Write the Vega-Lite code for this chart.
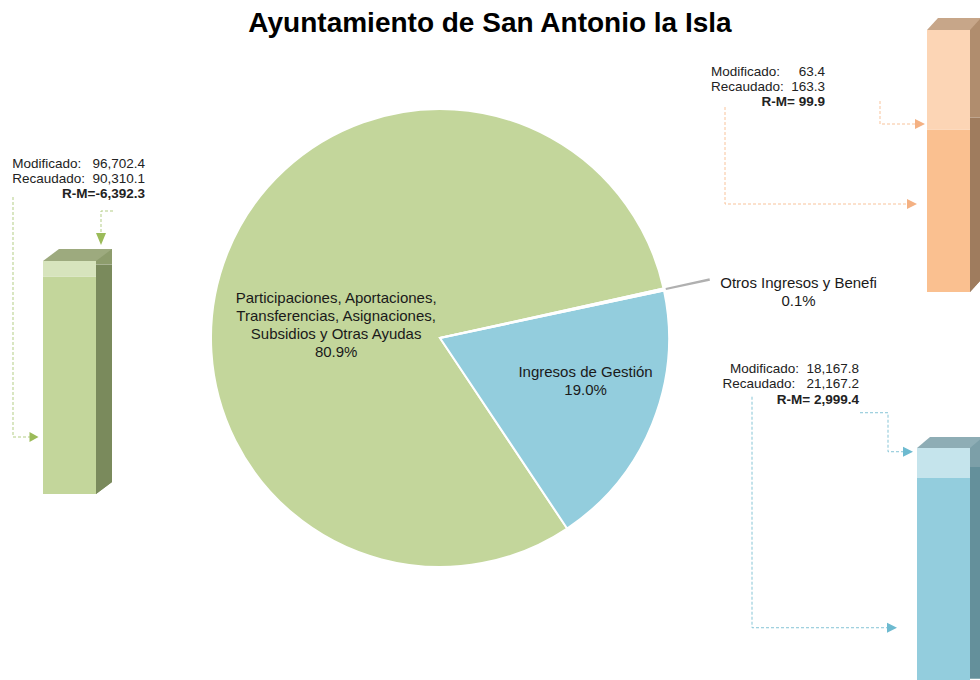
{
  "$schema": "https://vega.github.io/schema/vega-lite/v6.json",
  "padding": 0,
  "spacing": 0,
  "bounds": "flush",
  "title": {"text": "Ayuntamiento de San Antonio la Isla", "font": "Liberation Sans", "fontSize": 28, "fontWeight": "bold", "color": "#000000", "anchor": "middle", "offset": -38},
  "config": {"view": {"stroke": null}, "font": "Liberation Sans", "axis": {"disable": true}, "concat": {"spacing": 0}},
  "hconcat": [
    {
      "width": 139,
      "height": 494,
      "data": {"values": [
        {"barra": "Participaciones", "parte": "Recaudado", "valor": 90310.1},
        {"barra": "Participaciones", "parte": "Diferencia R-M", "valor": 6392.3}
      ]},
      "encoding": {"x": {"field": "barra", "type": "nominal", "axis": null, "scale": {"paddingInner": 0, "paddingOuter": 0}}},
      "layer": [
        {"mark": {"type": "bar", "width": 16, "xOffset": 34.5, "yOffset": -12, "y2Offset": -12},
         "encoding": {"y": {"field": "valor", "type": "quantitative", "stack": "zero", "axis": null, "scale": {"domain": [0, 205025], "nice": false}},
           "color": {"field": "parte", "type": "nominal", "legend": null, "scale": {"domain": ["Recaudado", "Diferencia R-M"], "range": ["#7A8A5C", "#8D9C6C"]}},
           "order": {"field": "parte", "sort": "descending"}}},
        {"mark": {"type": "bar", "width": 53},
         "encoding": {"y": {"field": "valor", "type": "quantitative", "stack": "zero", "axis": null},
           "color": {"field": "parte", "type": "nominal", "legend": null, "scale": {"domain": ["Recaudado", "Diferencia R-M"], "range": ["#C3D69B", "#D7E4BD"]}},
           "order": {"field": "parte", "sort": "descending"}}},
        {"mark": {"type": "point", "shape": "M-26.5,0 L26.5,0 L42.5,-12 L-10.5,-12 Z", "size": 4, "filled": true, "opacity": 1, "color": "#9DAA7E", "strokeWidth": 0},
         "encoding": {"y": {"aggregate": "sum", "field": "valor", "type": "quantitative", "axis": null}}},
        {"mark": {"type": "point", "shape": "M26.5,0 L26.5,-12 L42.5,-12 Z", "size": 4, "filled": true, "opacity": 1, "color": "#7A8A5C", "strokeWidth": 0},
         "encoding": {"y": {"datum": 0, "type": "quantitative", "axis": null}}},
        {
          "data": {"values": [{"barra": "Participaciones", "lineas": "Modificado:\u00a0\u00a0\u00a096,702.4\nRecaudado:\u00a0\u00a090,310.1", "rm": "R-M=-6,392.3"}]},
          "layer": [
            {"mark": {"type": "text", "align": "right", "baseline": "alphabetic", "dx": 75.5, "dy": -326, "fontSize": 13.5, "lineHeight": 15, "lineBreak": "\n", "color": "#222222"},
             "encoding": {"y": {"datum": 0, "type": "quantitative", "axis": null}, "text": {"field": "lineas"}}},
            {"mark": {"type": "text", "align": "right", "baseline": "alphabetic", "dx": 75.5, "dy": -296, "fontSize": 13.5, "fontWeight": "bold", "color": "#222222"},
             "encoding": {"y": {"datum": 0, "type": "quantitative", "axis": null}, "text": {"field": "rm"}}},
            {"mark": {"type": "point", "shape": "M-56.5,-297 L-56.5,-57 L-39.5,-57", "size": 4, "filled": false, "opacity": 1, "stroke": "#B3CD85", "strokeWidth": 1, "strokeDash": [3, 2]},
             "encoding": {"y": {"datum": 0, "type": "quantitative", "axis": null}}},
            {"mark": {"type": "point", "shape": "M-40,-62 L-31,-57 L-40,-52 Z", "size": 4, "filled": true, "opacity": 1, "color": "#9BBB59", "strokeWidth": 0},
             "encoding": {"y": {"datum": 0, "type": "quantitative", "axis": null}}},
            {"mark": {"type": "point", "shape": "M43.5,-283 L31.5,-283 L31.5,-261", "size": 4, "filled": false, "opacity": 1, "stroke": "#B3CD85", "strokeWidth": 1, "strokeDash": [3, 2]},
             "encoding": {"y": {"datum": 0, "type": "quantitative", "axis": null}}},
            {"mark": {"type": "point", "shape": "M26.5,-261 L36.5,-261 L31.5,-249 Z", "size": 4, "filled": true, "opacity": 1, "color": "#9BBB59", "strokeWidth": 0},
             "encoding": {"y": {"datum": 0, "type": "quantitative", "axis": null}}}
          ]
        }
      ],
      "resolve": {"scale": {"color": "independent"}}
    },
    {
      "width": 602,
      "height": 676,
      "data": {"values": [
        {"categoria": "Participaciones, Aportaciones, Transferencias, Asignaciones, Subsidios y Otras Ayudas", "recaudado": 90310.1, "etiqueta": "Participaciones, Aportaciones,\nTransferencias, Asignaciones,\nSubsidios y Otras Ayudas\n80.9%"},
        {"categoria": "Ingresos de Gestión", "recaudado": 21167.2, "etiqueta": "Ingresos de Gestión\n19.0%"},
        {"categoria": "Otros Ingresos y Beneficios", "recaudado": 163.3, "etiqueta": "Otros Ingresos y Benefi\n0.1%"}
      ]},
      "encoding": {
        "theta": {"field": "recaudado", "type": "quantitative", "stack": true, "scale": {"range": [1.3526, 7.6358]}},
        "order": {"field": "recaudado", "sort": "ascending"}
      },
      "layer": [
        {"mark": {"type": "arc", "outerRadius": 229, "stroke": "#ffffff", "strokeWidth": 2},
         "encoding": {"color": {"field": "categoria", "type": "nominal", "legend": null,
           "scale": {"domain": ["Participaciones, Aportaciones, Transferencias, Asignaciones, Subsidios y Otras Ayudas", "Ingresos de Gestión", "Otros Ingresos y Beneficios"], "range": ["#C3D69B", "#93CDDD", "#FAC090"]}}}},
        {"mark": {"type": "arc", "innerRadius": 231, "outerRadius": 276},
         "encoding": {"color": {"condition": {"test": "datum.categoria === 'Otros Ingresos y Beneficios'", "value": "#B0B0B0"}, "value": "transparent"}}},
        {"mark": {"type": "text", "radius": 113, "dx": 1, "dy": 7, "fontSize": 15, "lineHeight": 18, "lineBreak": "\n", "align": "center", "baseline": "alphabetic", "color": "#1A1A1A"},
         "encoding": {"text": {"condition": {"test": "datum.categoria === 'Participaciones, Aportaciones, Transferencias, Asignaciones, Subsidios y Otras Ayudas'", "field": "etiqueta"}, "value": ""}}},
        {"mark": {"type": "text", "radius": 155, "dx": 2, "dy": -19, "fontSize": 15, "lineHeight": 18, "lineBreak": "\n", "align": "center", "baseline": "alphabetic", "color": "#1A1A1A"},
         "encoding": {"text": {"condition": {"test": "datum.categoria === 'Ingresos de Gestión'", "field": "etiqueta"}, "value": ""}}},
        {"mark": {"type": "text", "radius": 370, "dx": -3, "dy": 28, "fontSize": 15, "lineHeight": 18, "lineBreak": "\n", "align": "center", "baseline": "alphabetic", "color": "#1A1A1A"},
         "encoding": {"text": {"condition": {"test": "datum.categoria === 'Otros Ingresos y Beneficios'", "field": "etiqueta"}, "value": ""}}}
      ]
    },
    {
      "spacing": 0,
      "bounds": "flush",
      "vconcat": [
        {
          "width": 239,
          "height": 292,
          "data": {"values": [
            {"barra": "Otros Ingresos y Beneficios", "parte": "Recaudado", "valor": 163.3},
            {"barra": "Otros Ingresos y Beneficios", "parte": "Diferencia R-M", "valor": 99.9}
          ]},
          "encoding": {"x": {"field": "barra", "type": "nominal", "axis": null, "scale": {"range": [176, 239], "paddingInner": 0, "paddingOuter": 0}}},
          "layer": [
            {"mark": {"type": "bar", "width": 11, "xOffset": 27, "yOffset": -12, "y2Offset": -12, "clip": true},
             "encoding": {"y": {"field": "valor", "type": "quantitative", "stack": "zero", "axis": null, "scale": {"domain": [0, 293.35], "nice": false}},
               "color": {"field": "parte", "type": "nominal", "legend": null, "scale": {"domain": ["Recaudado", "Diferencia R-M"], "range": ["#9F7C5E", "#B08D6E"]}},
               "order": {"field": "parte", "sort": "descending"}}},
            {"mark": {"type": "bar", "width": 43, "clip": true},
             "encoding": {"y": {"field": "valor", "type": "quantitative", "stack": "zero", "axis": null},
               "color": {"field": "parte", "type": "nominal", "legend": null, "scale": {"domain": ["Recaudado", "Diferencia R-M"], "range": ["#FAC090", "#FCD5B5"]}},
               "order": {"field": "parte", "sort": "descending"}}},
            {"mark": {"type": "point", "shape": "M-21.5,0 L21.5,0 L32.5,-12 L-10.5,-12 Z", "size": 4, "filled": true, "opacity": 1, "color": "#C7A689", "strokeWidth": 0, "clip": true},
             "encoding": {"y": {"aggregate": "sum", "field": "valor", "type": "quantitative", "axis": null}}},
            {"mark": {"type": "point", "shape": "M21.5,0 L21.5,-12 L32.5,-12 Z", "size": 4, "filled": true, "opacity": 1, "color": "#9F7C5E", "strokeWidth": 0, "clip": true},
             "encoding": {"y": {"datum": 0, "type": "quantitative", "axis": null}}},
            {
              "data": {"values": [{"barra": "Otros Ingresos y Beneficios", "lineas": "Modificado:\u00a0\u00a0\u00a0\u00a0\u00a063.4\nRecaudado:\u00a0\u00a0163.3", "rm": "R-M=\u00a099.9"}]},
              "layer": [
                {"mark": {"type": "text", "align": "right", "baseline": "alphabetic", "dx": -123.5, "dy": -216, "fontSize": 13.5, "lineHeight": 15, "lineBreak": "\n", "color": "#222222"},
                 "encoding": {"y": {"datum": 0, "type": "quantitative", "axis": null}, "text": {"field": "lineas"}}},
                {"mark": {"type": "text", "align": "right", "baseline": "alphabetic", "dx": -123.5, "dy": -186, "fontSize": 13.5, "fontWeight": "bold", "color": "#222222"},
                 "encoding": {"y": {"datum": 0, "type": "quantitative", "axis": null}, "text": {"field": "rm"}}},
                {"mark": {"type": "point", "shape": "M-68.5,-191 L-68.5,-168 L-33.5,-168", "size": 4, "filled": false, "opacity": 1, "stroke": "#F8C39B", "strokeWidth": 1, "strokeDash": [3, 2]},
                 "encoding": {"y": {"datum": 0, "type": "quantitative", "axis": null}}},
                {"mark": {"type": "point", "shape": "M-33.5,-173 L-23.5,-168 L-33.5,-163 Z", "size": 4, "filled": true, "opacity": 1, "color": "#F4B183", "strokeWidth": 0},
                 "encoding": {"y": {"datum": 0, "type": "quantitative", "axis": null}}},
                {"mark": {"type": "point", "shape": "M-223.5,-185 L-223.5,-88 L-41.5,-88", "size": 4, "filled": false, "opacity": 1, "stroke": "#F8C39B", "strokeWidth": 1, "strokeDash": [3, 2]},
                 "encoding": {"y": {"datum": 0, "type": "quantitative", "axis": null}}},
                {"mark": {"type": "point", "shape": "M-41.5,-93 L-31.5,-88 L-41.5,-83 Z", "size": 4, "filled": true, "opacity": 1, "color": "#F4B183", "strokeWidth": 0},
                 "encoding": {"y": {"datum": 0, "type": "quantitative", "axis": null}}}
              ]
            }
          ],
          "resolve": {"scale": {"color": "independent"}}
        },
        {
          "width": 239,
          "height": 388,
          "data": {"values": [
            {"barra": "Ingresos de Gestión", "parte": "Recaudado", "valor": 21167.2},
            {"barra": "Ingresos de Gestión", "parte": "Diferencia R-M", "valor": 2999.4}
          ]},
          "encoding": {"x": {"field": "barra", "type": "nominal", "axis": null, "scale": {"range": [166, 239], "paddingInner": 0, "paddingOuter": 0}}},
          "layer": [
            {"mark": {"type": "bar", "width": 13, "xOffset": 33, "yOffset": -11, "y2Offset": -11, "clip": true},
             "encoding": {"y": {"field": "valor", "type": "quantitative", "stack": "zero", "axis": null, "scale": {"domain": [972, 39764], "nice": false, "zero": false}},
               "color": {"field": "parte", "type": "nominal", "legend": null, "scale": {"domain": ["Recaudado", "Diferencia R-M"], "range": ["#64909B", "#7C9FA8"]}},
               "order": {"field": "parte", "sort": "descending"}}},
            {"mark": {"type": "bar", "width": 53, "clip": true},
             "encoding": {"y": {"field": "valor", "type": "quantitative", "stack": "zero", "axis": null},
               "color": {"field": "parte", "type": "nominal", "legend": null, "scale": {"domain": ["Recaudado", "Diferencia R-M"], "range": ["#93CDDD", "#C5E4EC"]}},
               "order": {"field": "parte", "sort": "descending"}}},
            {"mark": {"type": "point", "shape": "M-26.5,0 L26.5,0 L39.5,-11 L-13.5,-11 Z", "size": 4, "filled": true, "opacity": 1, "color": "#8EADB5", "strokeWidth": 0, "clip": true},
             "encoding": {"y": {"aggregate": "sum", "field": "valor", "type": "quantitative", "axis": null}}},
            {
              "data": {"values": [{"barra": "Ingresos de Gestión", "lineas": "Modificado:\u00a0\u00a018,167.8\nRecaudado:\u00a0\u00a0\u00a021,167.2", "rm": "R-M=\u00a02,999.4"}]},
              "layer": [
                {"mark": {"type": "text", "align": "right", "baseline": "alphabetic", "dx": -84.5, "dy": -317, "fontSize": 13.5, "lineHeight": 15, "lineBreak": "\n", "color": "#222222"},
                 "encoding": {"y": {"datum": 0, "type": "quantitative", "axis": null}, "text": {"field": "lineas"}}},
                {"mark": {"type": "text", "align": "right", "baseline": "alphabetic", "dx": -84.5, "dy": -286, "fontSize": 13.5, "fontWeight": "bold", "color": "#222222"},
                 "encoding": {"y": {"datum": 0, "type": "quantitative", "axis": null}, "text": {"field": "rm"}}},
                {"mark": {"type": "point", "shape": "M-83.5,-277 L-55.5,-277 L-55.5,-238 L-40.5,-238", "size": 4, "filled": false, "opacity": 1, "stroke": "#86C5D6", "strokeWidth": 1, "strokeDash": [3, 2]},
                 "encoding": {"y": {"datum": 0, "type": "quantitative", "axis": null}}},
                {"mark": {"type": "point", "shape": "M-40.5,-243 L-30.5,-238 L-40.5,-233 Z", "size": 4, "filled": true, "opacity": 1, "color": "#6DBAD0", "strokeWidth": 0},
                 "encoding": {"y": {"datum": 0, "type": "quantitative", "axis": null}}},
                {"mark": {"type": "point", "shape": "M-191.5,-293 L-191.5,-62 L-56.5,-62", "size": 4, "filled": false, "opacity": 1, "stroke": "#86C5D6", "strokeWidth": 1, "strokeDash": [3, 2]},
                 "encoding": {"y": {"datum": 0, "type": "quantitative", "axis": null}}},
                {"mark": {"type": "point", "shape": "M-56.5,-67 L-46.5,-62 L-56.5,-57 Z", "size": 4, "filled": true, "opacity": 1, "color": "#6DBAD0", "strokeWidth": 0},
                 "encoding": {"y": {"datum": 0, "type": "quantitative", "axis": null}}}
              ]
            }
          ],
          "resolve": {"scale": {"color": "independent"}}
        }
      ]
    }
  ]
}
